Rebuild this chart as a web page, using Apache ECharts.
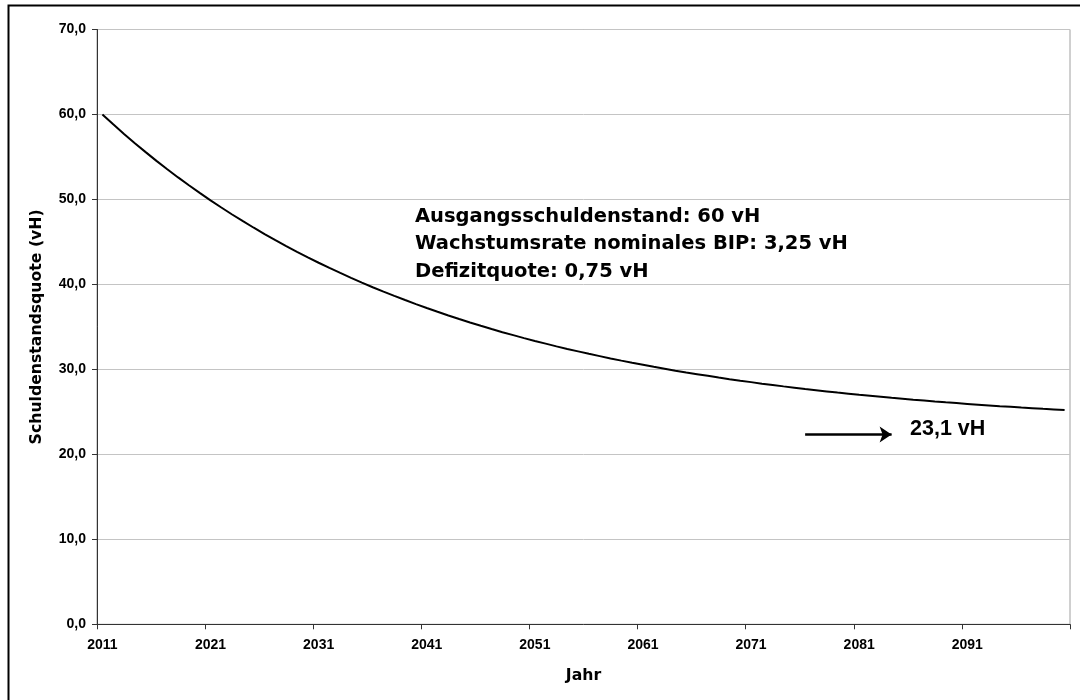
<!DOCTYPE html>
<html><head><meta charset="utf-8">
<script src="https://cdn.jsdelivr.net/npm/echarts@6/dist/echarts.min.js"></script>
<style>html,body{margin:0;padding:0;background:#fff}#c{width:1080px;height:700px}</style>
</head><body><div id="c"></div>
<script>
const years = ['2011','2012','2013','2014','2015','2016','2017','2018','2019','2020',
'2021','2022','2023','2024','2025','2026','2027','2028','2029','2030',
'2031','2032','2033','2034','2035','2036','2037','2038','2039','2040',
'2041','2042','2043','2044','2045','2046','2047','2048','2049','2050',
'2051','2052','2053','2054','2055','2056','2057','2058','2059','2060',
'2061','2062','2063','2064','2065','2066','2067','2068','2069','2070',
'2071','2072','2073','2074','2075','2076','2077','2078','2079','2080',
'2081','2082','2083','2084','2085','2086','2087','2088','2089','2090',
'2091','2092','2093','2094','2095','2096','2097','2098','2099','2100'];

const debtRatio = [60.00,58.84,57.71,56.62,55.57,54.54,53.55,52.59,51.67,50.77,
49.89,49.05,48.23,47.44,46.67,45.93,45.21,44.51,43.84,43.19,
42.55,41.94,41.35,40.77,40.21,39.67,39.15,38.65,38.16,37.68,
37.22,36.78,36.35,35.93,35.52,35.13,34.75,34.38,34.03,33.68,
33.35,33.03,32.71,32.41,32.12,31.83,31.56,31.29,31.03,30.78,
30.54,30.30,30.08,29.85,29.64,29.44,29.24,29.04,28.85,28.67,
28.50,28.32,28.16,28.00,27.85,27.69,27.55,27.41,27.27,27.14,
27.01,26.89,26.77,26.65,26.54,26.43,26.33,26.22,26.12,26.03,
25.94,25.85,25.76,25.67,25.59,25.51,25.44,25.36,25.29,25.22];

const annotationLines = ['Ausgangsschuldenstand: 60 vH','Wachstumsrate nominales BIP: 3,25 vH','Defizitquote: 0,75 vH'];
const limitLabel = '23,1 vH';
const arrowFrom = ['2076', 22.35];
const arrowTo = ['2084', 22.35];

const chart = echarts.init(document.getElementById('c'), null, {renderer:'canvas'});
const tickFont = {fontFamily:'Liberation Sans, Arial, sans-serif', fontWeight:'bold', fontSize:14, color:'#000'};
const titleFont = {fontFamily:'DejaVu Sans, sans-serif', fontWeight:'bold', fontSize:15.7, color:'#000'};

chart.setOption({
  animation:false,
  backgroundColor:'#fff',
  grid:{left:97, right:10, top:29.5, bottom:75.7, show:true, borderColor:'#a0a0a0', borderWidth:1, containLabel:false},
  xAxis:{
    type:'category', data:years, boundaryGap:true,
    axisLine:{show:true, lineStyle:{color:'#333', width:1}},
    axisTick:{show:true, interval:9, length:5, alignWithLabel:false, lineStyle:{color:'#333'}},
    axisLabel:Object.assign({interval:9, margin:14}, tickFont),
    splitLine:{show:false},
    name:'Jahr', nameLocation:'middle', nameGap:44, nameTextStyle:titleFont
  },
  yAxis:{
    type:'value', min:0, max:70, interval:10,
    axisLine:{show:true, lineStyle:{color:'#333', width:1}},
    axisTick:{show:true, length:5, lineStyle:{color:'#333'}},
    axisLabel:Object.assign({margin:11, formatter:v=>v.toFixed(1).replace('.', ',')}, tickFont),
    splitLine:{show:true, lineStyle:{color:'#c4c4c4', width:1}},
    name:'Schuldenstandsquote (vH)', nameLocation:'middle', nameGap:52, nameRotate:90, nameTextStyle:titleFont
  },
  series:[{
    type:'line', data:debtRatio, symbol:'none', smooth:false,
    lineStyle:{color:'#000', width:2}, itemStyle:{color:'#000'},
    silent:true,
    markLine:{
      silent:true, symbol:['none','arrow'], symbolSize:12,
      lineStyle:{color:'#000', width:2.6, type:'solid'},
      label:{show:false},
      emphasis:{disabled:true},
      data:[[{coord:arrowFrom},{coord:arrowTo}]]
    }
  }],
  graphic:[
    {type:'rect', shape:{x:8.5, y:5.5, width:1100, height:720}, style:{fill:'none', stroke:'#000', lineWidth:2}, silent:true},
    {type:'text', x:415, y:202.9, style:{text:annotationLines.join('\n'), font:'bold 19.5px "DejaVu Sans", sans-serif', fill:'#000', lineHeight:27.5, verticalAlign:'top', align:'left'}, silent:true},
    {type:'text', x:910, y:429, style:{text:limitLabel, font:'bold 21.5px "Liberation Sans", Arial, sans-serif', fill:'#000', verticalAlign:'middle', align:'left'}, silent:true}
  ]
});
</script></body></html>
